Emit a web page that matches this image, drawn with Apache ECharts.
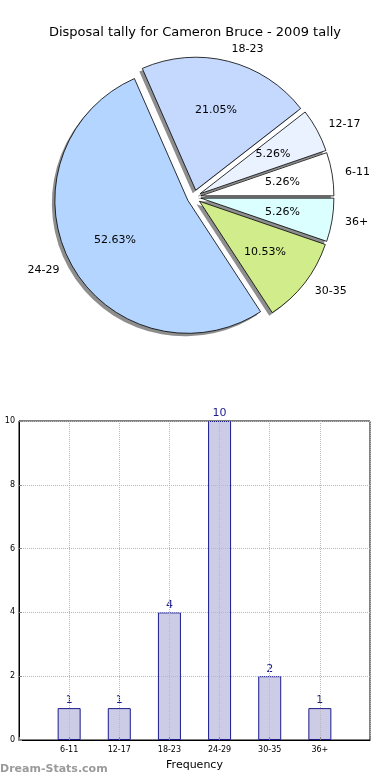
<!DOCTYPE html>
<html>
<head>
<meta charset="utf-8">
<script src="https://cdn.jsdelivr.net/npm/echarts@6/dist/echarts.min.js"></script>
<style>
html,body{margin:0;padding:0;background:#fff;}
#c{width:390px;height:780px;}
</style>
</head>
<body>
<div id="c"></div>
<script>
const categories = ['6-11', '12-17', '18-23', '24-29', '30-35', '36+'];
const counts = [1, 1, 4, 10, 2, 1];
const pieColors = ['#ffffff', '#eaf1ff', '#c5d9ff', '#b4d5ff', '#d0ec8b', '#dbffff'];
const yTicks = [0, 2, 4, 6, 8, 10];

const total = counts.reduce((a, b) => a + b, 0);
const FONT = 'DejaVu Sans';
const R = 133;
const CX = 194, CY = 197;
const SH = 3; // shadow offset

const sliceStyle = { borderColor: '#000', borderWidth: 0.8 };
const pieData = categories.map((c, i) => ({
  name: c, value: counts[i], selected: true,
  itemStyle: { color: pieColors[i] },
  select: { itemStyle: Object.assign({ color: pieColors[i] }, sliceStyle) }
}));
const plainData = categories.map((c, i) => ({
  name: c, value: counts[i], selected: true
}));
const clearStyle = { color: 'rgba(0,0,0,0)', borderWidth: 0 };
const shadowStyle = { color: '#8e8e8e', borderWidth: 0 };

const chart = echarts.init(document.getElementById('c'), null, { renderer: 'canvas' });
chart.setOption({
  animation: false,
  backgroundColor: '#ffffff',
  title: {
    text: 'Disposal tally for Cameron Bruce - 2009 tally',
    left: 'center', top: 21,
    textStyle: { fontFamily: FONT, fontSize: 13, fontWeight: 'normal', color: '#000' }
  },
  graphic: [{
    type: 'text', left: 0, top: 764,
    style: { text: 'Dream-Stats.com', fill: '#9a9a9a', font: 'bold 11px "DejaVu Sans"' }
  }],
  grid: {
    left: 19, right: 20, top: 421, bottom: 40,
    containLabel: false, outerBoundsMode: 'none',
    show: true, borderColor: '#000', borderWidth: 1, backgroundColor: 'transparent'
  },
  xAxis: {
    type: 'value', min: 0, max: 7, interval: 1, z: 3,
    name: 'Frequency', nameLocation: 'middle', nameGap: 20,
    nameTextStyle: { fontFamily: FONT, fontSize: 11, color: '#000' },
    axisLine: { show: true, lineStyle: { color: '#000' } },
    axisTick: { show: true, inside: true, length: 3, lineStyle: { color: '#888' } },
    axisLabel: {
      fontFamily: FONT, fontSize: 8, color: '#000', margin: 6,
      formatter: v => categories[v - 1] || ''
    },
    splitLine: { show: true, lineStyle: { color: '#b8b8b8', type: 'dotted', width: 1 } }
  },
  yAxis: {
    type: 'value', min: 0, max: 10, interval: 2, z: 3,
    name: 'Disposal Tally', nameLocation: 'middle', nameGap: 20, nameRotate: 90,
    nameTextStyle: { fontFamily: FONT, fontSize: 9, color: '#000' },
    axisLine: { show: true, lineStyle: { color: '#000' } },
    axisTick: { show: true, inside: true, length: 3, lineStyle: { color: '#888' } },
    axisLabel: { fontFamily: FONT, fontSize: 8, color: '#000', margin: 4 },
    splitLine: { show: true, lineStyle: { color: '#b8b8b8', type: 'dotted', width: 1 } }
  },
  series: [
    {
      type: 'pie', z: 1,
      center: [CX - SH, CY + SH], radius: [0, R],
      startAngle: 0, clockwise: false,
      selectedMode: 'multiple', selectedOffset: 7,
      silent: true,
      emphasis: { disabled: true },
      itemStyle: shadowStyle,
      select: { itemStyle: shadowStyle },
      label: { show: false },
      labelLine: { show: false },
      data: plainData
    },
    {
      type: 'pie', z: 2,
      center: [CX, CY], radius: [0, R],
      startAngle: 0, clockwise: false,
      selectedMode: 'multiple', selectedOffset: 7,
      avoidLabelOverlap: false,
      emphasis: { disabled: true },
      itemStyle: sliceStyle,
      label: {
        show: true, position: 'outside', distanceToLabelLine: 0,
        fontFamily: FONT, fontSize: 11, color: '#000',
        formatter: '{b}'
      },
      labelLine: { show: false, length: 13, length2: 0 },
      data: pieData
    },
    {
      type: 'pie', z: 3,
      center: [CX, CY], radius: [R * 0.2, R],
      startAngle: 0, clockwise: false,
      selectedMode: 'multiple', selectedOffset: 7,
      silent: true,
      emphasis: { disabled: true },
      itemStyle: clearStyle,
      select: { itemStyle: clearStyle },
      label: {
        show: true, position: 'inside',
        fontFamily: FONT, fontSize: 11, color: '#000',
        formatter: p => (p.value / total * 100).toFixed(2) + '%'
      },
      labelLine: { show: false },
      data: plainData
    },
    {
      type: 'bar',
      data: counts.map((v, i) => [i + 1, v]),
      barWidth: 23,
      itemStyle: { color: '#ccccE6', borderColor: '#1c1c8c', borderWidth: 1 },
      label: {
        show: true, position: 'top', distance: 2,
        fontFamily: FONT, fontSize: 11, color: '#1c1c8c'
      }
    }
  ]
});
</script>
</body>
</html>
